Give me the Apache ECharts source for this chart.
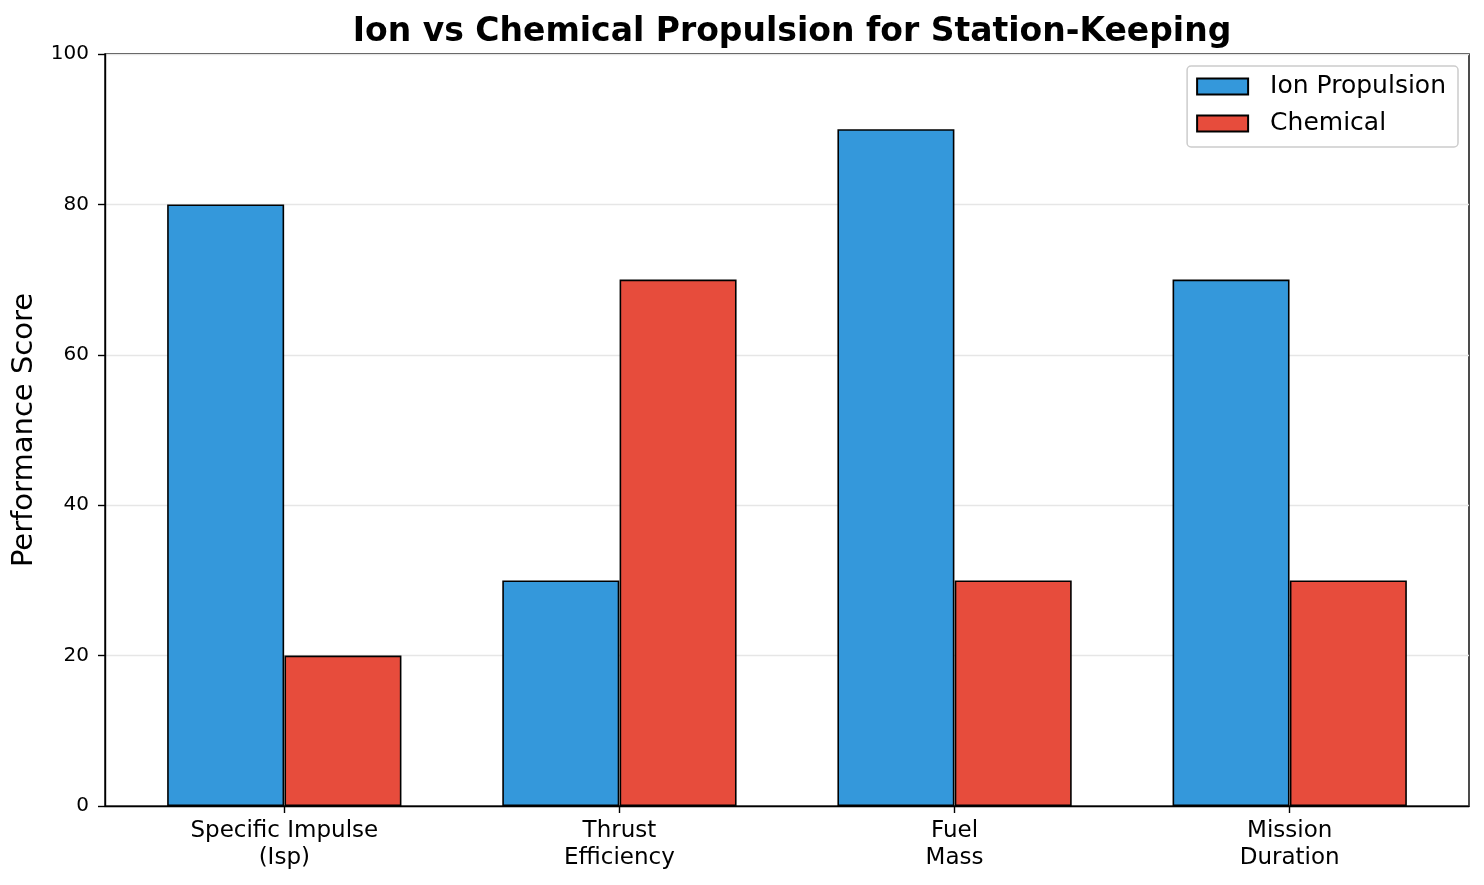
<!DOCTYPE html>
<html>
<head>
<meta charset="utf-8">
<script src="https://cdn.jsdelivr.net/npm/echarts@6/dist/echarts.min.js"></script>
<style>
  html, body { margin: 0; padding: 0; background: #fff; }
  #chart { width: 1484px; height: 885px; }
</style>
</head>
<body>
<div id="chart"></div>
<script>
// Data
const categories = ['Specific Impulse\n(Isp)', 'Thrust\nEfficiency', 'Fuel\nMass', 'Mission\nDuration']
const ionScores = [80, 30, 90, 70]
const chemicalScores = [20, 70, 30, 30]
const yTicks = [0, 20, 40, 60, 80, 100]

const FONT = 'DejaVu Sans'
const BAR_W = 0.35 // bar width in category units (matplotlib style)

const chart = echarts.init(document.getElementById('chart'))

const option = {
  animation: false,
  backgroundColor: '#fff',
  textStyle: { fontFamily: FONT },
  title: {
    text: 'Ion vs Chemical Propulsion for Station-Keeping',
    left: 787,
    textAlign: 'center',
    top: 11,
    textStyle: { fontFamily: FONT, fontSize: 33, fontWeight: 'bold', color: '#000' },
  },
  legend: {
    orient: 'vertical',
    right: 26,
    top: 66,
    icon: 'rect',
    itemWidth: 51,
    itemHeight: 16,
    itemGap: 12,
    padding: [8, 12, 11, 9],
    borderColor: '#cccccc',
    borderWidth: 1.5,
    borderRadius: 4,
    textStyle: { fontFamily: FONT, fontSize: 25, color: '#000', padding: [0, 0, 0, 17] },
    data: ['Ion Propulsion', 'Chemical'],
  },
  grid: {
    left: 105,
    right: 15,
    top: 54,
    bottom: 79,
    outerBoundsMode: 'none',
    show: true,
    borderColor: '#000',
    borderWidth: 1.4,
  },
  xAxis: {
    type: 'value',
    min: -0.535,
    max: 3.535,
    splitLine: { show: false },
    axisLine: { show: true, onZero: false, lineStyle: { color: '#000', width: 1.4 } },
    axisTick: { show: true, customValues: [0, 1, 2, 3], length: 7, lineStyle: { color: '#000', width: 1.4 } },
    axisLabel: {
      customValues: [0, 1, 2, 3],
      formatter: v => categories[Math.round(v)],
      fontFamily: FONT,
      fontSize: 23,
      lineHeight: 27,
      color: '#000',
      margin: 12,
    },
  },
  yAxis: {
    type: 'value',
    min: yTicks[0],
    max: yTicks[yTicks.length - 1],
    interval: 20,
    name: 'Performance Score',
    nameLocation: 'middle',
    nameGap: 66,
    nameTextStyle: { fontFamily: FONT, fontSize: 29, color: '#000' },
    axisLine: { show: true, onZero: false, lineStyle: { color: '#000', width: 1.4 } },
    axisTick: { show: true, length: 7, lineStyle: { color: '#000', width: 1.4 } },
    axisLabel: { fontFamily: FONT, fontSize: 20, color: '#000', margin: 16 },
    splitLine: { show: true, lineStyle: { color: '#e6e6e6', width: 1.3 } },
  },
  series: [
    {
      name: 'Ion Propulsion',
      type: 'bar',
      barWidth: 117,
      barGap: '-100%',
      data: ionScores.map((v, i) => [i - BAR_W / 2, v]),
      itemStyle: { color: '#3498db', borderColor: '#000', borderWidth: 1.6 },
    },
    {
      name: 'Chemical',
      type: 'bar',
      barWidth: 117,
      barGap: '-100%',
      data: chemicalScores.map((v, i) => [i + BAR_W / 2, v]),
      itemStyle: { color: '#e74c3c', borderColor: '#000', borderWidth: 1.6 },
    },
  ],
}

chart.setOption(option)
</script>
</body>
</html>
